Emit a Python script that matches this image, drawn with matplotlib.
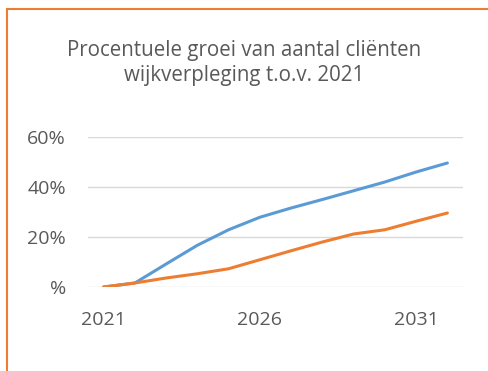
import matplotlib.pyplot as plt
from matplotlib.patches import Rectangle
from matplotlib.ticker import FixedLocator

plt.rcParams['font.family'] = ['Open Sans', 'DejaVu Sans']

years = list(range(2021, 2033))
groei_blauw = [0.0, 1.6, 9.2, 16.7, 22.9, 27.9, 31.6, 35.0, 38.5, 42.0, 46.0, 49.6]
groei_oranje = [0.0, 1.6, 3.6, 5.3, 7.3, 10.9, 14.5, 18.0, 21.2, 22.9, 26.3, 29.6]
ytick_vals = [0, 20, 40, 60]
ytick_labels = ['%', '20%', '40%', '60%']
xtick_vals = [2021, 2026, 2031]

grey = '#595959'

fig = plt.figure(figsize=(4.88, 3.71), dpi=100)
ax = fig.add_axes([88 / 488, 1 - 287 / 371, 375 / 488, 150 / 371])

ax.plot(years, groei_blauw, color='#5b9bd5', lw=2.2, solid_capstyle='round', zorder=3)
ax.plot(years, groei_oranje, color='#ed7d31', lw=2.2, solid_capstyle='round', zorder=3)

ax.set_xlim(2020.5, 2032.5)
ax.set_ylim(0, 60)
ax.yaxis.set_major_locator(FixedLocator(ytick_vals))
ax.set_yticklabels(ytick_labels)
ax.set_xticks(xtick_vals)
ax.set_xticklabels([str(y) for y in xtick_vals])
ax.tick_params(axis='both', length=0, labelsize=14, labelcolor=grey)
ax.tick_params(axis='y', pad=16)
ax.tick_params(axis='x', pad=17)

ax.grid(axis='y', color='#d9d9d9', lw=1)
ax.set_axisbelow(True)
for s in ax.spines.values():
    s.set_visible(False)

fig.text(0.5, 1 - 63 / 371, 'Procentuele groei van aantal cliënten\nwijkverpleging t.o.v. 2021',
         ha='center', va='center', fontsize=14.8, color=grey, linespacing=1.3)

# orange frame, only left and top edge visible
fig.patches.append(Rectangle((6.5 / 488, -0.1), 1.2, 1.1 - 9.5 / 371, transform=fig.transFigure,
                             fill=False, edgecolor='#ed7d31', lw=1.5))

fig.savefig('out.png', dpi=100)
